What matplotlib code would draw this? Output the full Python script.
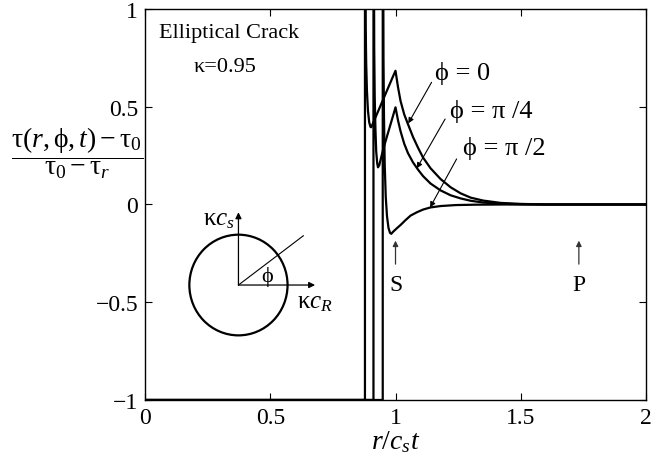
import matplotlib
matplotlib.use("Agg")
import matplotlib.pyplot as plt
from matplotlib.patches import Ellipse

plt.rcParams["font.family"] = ["Liberation Serif", "DejaVu Serif"]
plt.rcParams["mathtext.fontset"] = "custom"
plt.rcParams["mathtext.rm"] = "Liberation Serif"
plt.rcParams["mathtext.it"] = "Liberation Serif:italic"

# --- curves (r/c_s t, normalised stress) ---
# each: flat -1 on crack face, singular jump, then decay back to 0
phi0_x = [0.0, 0.878, 0.878, 0.8795, 0.881, 0.883, 0.886, 0.890, 0.895, 0.900, 0.903,
          0.93, 0.95, 0.97, 0.99, 1.0, 1.01, 1.02, 1.035, 1.05, 1.07, 1.09, 1.11,
          1.14, 1.18, 1.22, 1.26, 1.30, 1.35, 1.42, 1.50, 1.60, 2.0]
phi0_y = [-1.0, -1.0, 1.5, 1.5, 0.90, 0.72, 0.58, 0.48, 0.42, 0.397, 0.395,
          0.475, 0.535, 0.595, 0.655, 0.684, 0.60, 0.53, 0.46, 0.41, 0.345, 0.29, 0.24,
          0.185, 0.13, 0.088, 0.057, 0.035, 0.02, 0.008, 0.003, 0.0, 0.0]

phi45_x = [0.0, 0.912, 0.912, 0.9135, 0.915, 0.917, 0.920, 0.923, 0.927, 0.930, 0.935,
           0.95, 0.97, 0.99, 1.0, 1.01, 1.02, 1.035, 1.05, 1.07, 1.09, 1.11, 1.14,
           1.18, 1.22, 1.26, 1.30, 1.35, 1.42, 1.50, 1.60, 2.0]
phi45_y = [-1.0, -1.0, 1.5, 1.5, 0.80, 0.55, 0.38, 0.27, 0.21, 0.19, 0.20,
           0.278, 0.366, 0.453, 0.497, 0.43, 0.375, 0.31, 0.262, 0.215, 0.178, 0.145, 0.107,
           0.072, 0.047, 0.031, 0.019, 0.01, 0.004, 0.001, 0.0, 0.0]

phi90_x = [0.0, 0.949, 0.949, 0.9505, 0.952, 0.954, 0.957, 0.961, 0.966, 0.972, 0.978,
           0.983, 0.99, 1.005, 1.02, 1.04, 1.06, 1.085, 1.11, 1.14, 1.18, 1.24,
           1.32, 1.45, 2.0]
phi90_y = [-1.0, -1.0, 1.5, 1.5, 0.75, 0.45, 0.20, 0.04, -0.06, -0.12, -0.145,
           -0.15, -0.14, -0.122, -0.105, -0.08, -0.057, -0.04, -0.026, -0.015, -0.008, -0.003,
           -0.001, 0.0, 0.0]

x_ticks = [0, 0.5, 1, 1.5, 2]
x_ticklabels = ["0", "0.5", "1", "1.5", "2"]
y_ticks = [-1, -0.5, 0, 0.5, 1]
y_ticklabels = ["\u22121", "\u22120.5", "0", "0.5", "1"]

# wave-front markers
wave_labels = ["S", "P"]
wave_pos = [1.0, 1.732]

PHI = "\u03d5"

fig = plt.figure(figsize=(6.61, 4.60), dpi=100)
ax = fig.add_axes([0.2194, 0.1283, 0.7579, 0.85])

for xs, ys in [(phi0_x, phi0_y), (phi45_x, phi45_y), (phi90_x, phi90_y)]:
    ax.plot(xs, ys, color="k", lw=1.6, solid_joinstyle="round")

ax.set_xlim(0, 2)
ax.set_ylim(-1, 1)
ax.set_xticks(x_ticks)
ax.set_xticklabels(x_ticklabels)
ax.set_yticks(y_ticks)
ax.set_yticklabels(y_ticklabels)
ax.tick_params(direction="in", top=True, right=True, length=5, width=0.8,
               labelsize=17, pad=5)
for sp in ax.spines.values():
    sp.set_linewidth(1.0)

ax.set_xlabel(r"$r/c_s t$", fontsize=20, labelpad=0)
fig.text(0.1165, 0.667,
         r"$\dfrac{\mathrm{\tau}(r,\mathrm{\phi},t)-\mathrm{\tau}_0}{\mathrm{\tau}_0-\mathrm{\tau}_r}$",
         fontsize=20, ha="center", va="center")

ax.text(0.056, 0.857, "Elliptical Crack", fontsize=16, va="baseline")
ax.text(0.192, 0.683, "\u03ba=0.95", fontsize=16, va="baseline")

# curve labels with pointer arrows
akw = dict(arrowstyle="-|>", lw=0.8, color="k", mutation_scale=8, shrinkA=0, shrinkB=0)
ax.text(1.158, 0.642, PHI + " = 0", fontsize=19, va="baseline")
ax.annotate("", xy=(1.051, 0.415), xytext=(1.144, 0.625), arrowprops=akw)
ax.text(1.218, 0.446, PHI + " = \u03c0 /4", fontsize=19, va="baseline")
ax.annotate("", xy=(1.085, 0.185), xytext=(1.198, 0.437), arrowprops=akw)
ax.text(1.271, 0.258, PHI + " = \u03c0 /2", fontsize=19, va="baseline")
ax.annotate("", xy=(1.138, -0.015), xytext=(1.244, 0.233), arrowprops=akw)

for lab, xp in zip(wave_labels, wave_pos):
    ax.annotate("", xy=(xp, -0.185), xytext=(xp, -0.305),
                arrowprops=dict(arrowstyle="-|>", lw=0.9, color="#333333",
                                mutation_scale=8, shrinkA=0, shrinkB=0))
    ax.text(xp, -0.41, lab, fontsize=17, ha="center", va="center")

# inset sketch of the wave-speed ellipse
cx, cy = 0.373, -0.412
ax.add_patch(Ellipse((cx, cy), 0.392, 0.515, fill=False, lw=1.6, color="k"))
ikw = dict(arrowstyle="-|>", lw=0.9, color="k", mutation_scale=9, shrinkA=0, shrinkB=0)
ax.annotate("", xy=(cx, -0.04), xytext=(cx, cy), arrowprops=ikw)
ax.annotate("", xy=(0.679, cy), xytext=(cx, cy), arrowprops=ikw)
ax.plot([cx, 0.632], [cy, -0.160], color="k", lw=0.8)
ax.text(0.486, -0.364, PHI, fontsize=16, ha="center", va="center")
ax.text(0.359, -0.074, r"$\mathrm{\kappa}c_s$", fontsize=18, ha="right", va="center")
ax.text(0.606, -0.499, r"$\mathrm{\kappa}c_R$", fontsize=18, ha="left", va="center")

fig.savefig("out.png", dpi=100)
